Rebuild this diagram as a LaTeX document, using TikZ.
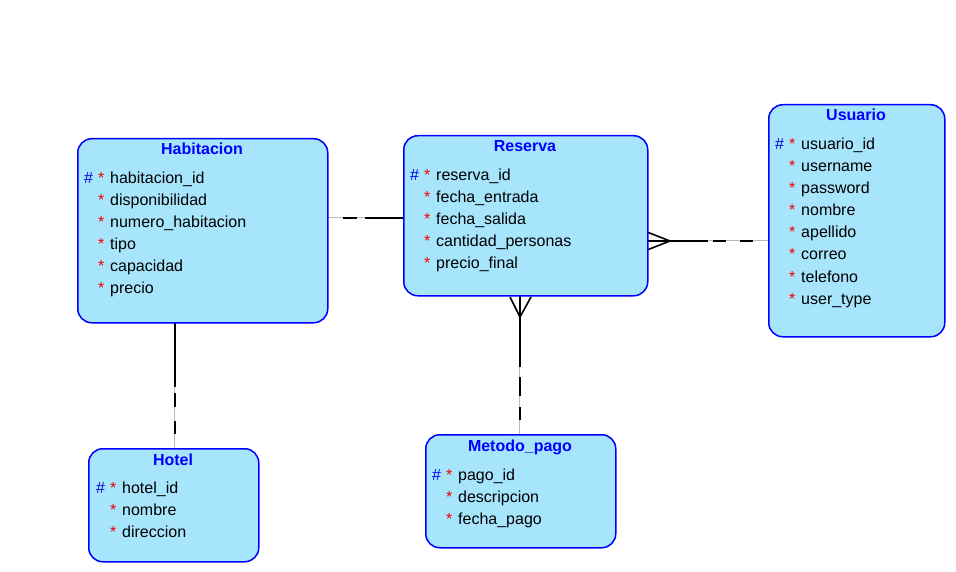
\documentclass[tikz,border=0pt]{standalone}
\usepackage{fontspec}
\setmainfont{Liberation Sans}
\usetikzlibrary{calc}
\definecolor{entfill}{RGB}{167,229,253}
\definecolor{entline}{RGB}{0,0,255}
\definecolor{pkblue}{RGB}{0,0,230}
\definecolor{reqred}{RGB}{240,0,0}

\tikzset{
  entity/.style={draw=entline, fill=entfill, line width=1.5pt, rounded corners=14pt, inner sep=0pt},
  enttitle/.style={font=\fontsize{16}{19}\selectfont\bfseries, text=entline, inner sep=0pt, anchor=base},
  attr/.style={font=\fontsize{16}{19}\selectfont, text=black, inner sep=0pt, anchor=base west},
  pkmark/.style={font=\fontsize{16}{19}\selectfont, text=pkblue, inner sep=0pt, anchor=base west},
  reqmark/.style={font=\fontsize{16}{19}\selectfont, text=reqred, inner sep=0pt, anchor=base west},
  relbase/.style={draw=gray!55, double=white, double distance=0.5pt, line width=0.6pt},
  relline/.style={draw=black, line width=2pt},
  crowfoot/.style={draw=black, line width=1.6pt},
}

% entity box: name, left, top, width, height, title
\newcommand{\entitybox}[6]{%
  \node[entity, minimum width=#4pt, minimum height=#5pt, anchor=north west] (#1) at (#2,#3) {};
  \node[enttitle] (#1-title) at ({#2+#4/2},{#3+17}) {#6};
}
% attribute rows: name, left, first baseline, list of attributes
\newcommand{\entityattrs}[4]{%
  \node[pkmark] (#1-pk) at ({#2+7},#3) {\#};
  \foreach \t [count=\i] in {#4} {
    \node[reqmark] (#1-req\i) at ({#2+21},{#3+22*(\i-1)}) {*};
    \node[attr] (#1-attr\i) at ({#2+33},{#3+22*(\i-1)}) {\t};
  }
}

\begin{document}
\begin{tikzpicture}[x=1pt, y=-1pt]
  \fill[white] (0,0) rectangle (956,572);
  \useasboundingbox (0,0) rectangle (956,572);

  % relationship lines (drawn first, boxes on top)
  \coordinate (hr-h) at (327,218);
  \coordinate (hr-r) at (403,218);
  \coordinate (ru-r) at (647,241);
  \coordinate (ru-u) at (768,241);
  \coordinate (rm-r) at (520,295);
  \coordinate (rm-m) at (520,434);
  \coordinate (hh-a) at (175,322);
  \coordinate (hh-b) at (175,448);

  % Habitacion -- Reserva
  \draw[relbase] (hr-h) -- (hr-r);
  \draw[relline, dash pattern=on 38pt off 8pt on 14pt off 200pt] (hr-r) -- (hr-h);

  % Reserva >-- Usuario
  \draw[relbase] (ru-r) -- (ru-u);
  \draw[relline, dash pattern=on 61pt off 5pt on 13pt off 14pt on 13pt off 200pt] (ru-r) -- (ru-u);
  \coordinate (ru-p1) at (647,232);
  \coordinate (ru-p2) at (647,250);
  \coordinate (ru-x) at (670,241);
  \draw[crowfoot] (ru-p1) -- (ru-x) -- (ru-p2);

  % Reserva >-- Metodo_pago
  \draw[relbase] (rm-r) -- (rm-m);
  \draw[relline, dash pattern=on 72pt off 10pt on 19pt off 11pt on 13pt off 200pt] (rm-r) -- (rm-m);
  \coordinate (rm-p1) at (510,297);
  \coordinate (rm-p2) at (531,297);
  \coordinate (rm-x) at (520,317);
  \draw[crowfoot] (rm-p1) -- (rm-x) -- (rm-p2);

  % Habitacion -- Hotel
  \draw[relbase] (hh-a) -- (hh-b);
  \draw[relline, dash pattern=on 65pt off 6pt on 14pt off 14pt on 13pt off 200pt] (hh-a) -- (hh-b);

  % entities
  \entitybox{hab}{77}{138}{250}{184}{Habitacion}
  \entityattrs{hab}{77}{184}{habitacion\_id, disponibilidad, numero\_habitacion, tipo, capacidad, precio}

  \entitybox{res}{403}{135}{244}{160}{Reserva}
  \entityattrs{res}{403}{181}{reserva\_id, fecha\_entrada, fecha\_salida, cantidad\_personas, precio\_final}

  \entitybox{usu}{768}{104}{176}{232}{Usuario}
  \entityattrs{usu}{768}{150}{usuario\_id, username, password, nombre, apellido, correo, telefono, user\_type}

  \entitybox{hot}{88}{448}{170}{113}{Hotel}
  \entityattrs{hot}{89}{493}{hotel\_id, nombre, direccion}

  \entitybox{met}{425}{434}{190}{113}{Metodo\_pago}
  \entityattrs{met}{425}{480}{pago\_id, descripcion, fecha\_pago}
\end{tikzpicture}
\end{document}
